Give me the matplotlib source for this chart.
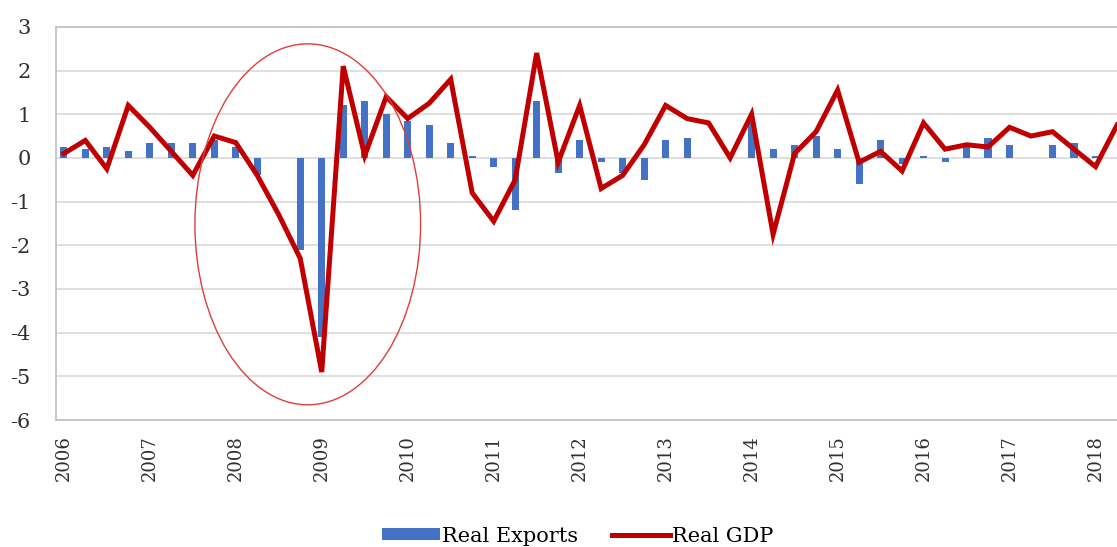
import numpy as np
import matplotlib
matplotlib.use("Agg")
import matplotlib.pyplot as plt
from matplotlib.patches import Ellipse

plt.rcParams['axes.unicode_minus'] = False

# quarterly data, 2006Q1 .. 2018Q2
years = [str(y) for y in range(2006, 2019)]
real_exports = [0.25, 0.2, 0.25, 0.15, 0.35, 0.35, 0.35, 0.4, 0.25, -0.4,
                0.0, -2.1, -4.1, 1.2, 1.3, 1.0, 0.85, 0.75, 0.35, 0.05,
                -0.2, -1.2, 1.3, -0.35, 0.4, -0.1, -0.35, -0.5, 0.4, 0.45,
                0.0, 0.0, 0.8, 0.2, 0.3, 0.5, 0.2, -0.6, 0.4, -0.15,
                0.05, -0.1, 0.3, 0.45, 0.3, 0.0, 0.3, 0.35, 0.05, 0.0]
real_gdp = [0.1, 0.4, -0.25, 1.2, 0.7, 0.15, -0.4, 0.5, 0.35, -0.4,
            -1.3, -2.3, -4.9, 2.1, 0.05, 1.4, 0.9, 1.25, 1.8, -0.8,
            -1.45, -0.5, 2.4, -0.1, 1.2, -0.7, -0.4, 0.3, 1.2, 0.9,
            0.8, 0.0, 1.0, -1.75, 0.1, 0.6, 1.55, -0.1, 0.15, -0.3,
            0.8, 0.2, 0.3, 0.25, 0.7, 0.5, 0.6, 0.2, -0.2, 0.75]

x = np.arange(len(real_gdp))

fig = plt.figure(figsize=(11.17, 5.47), dpi=100)
ax = fig.add_axes([0.050, 0.232, 0.950, 0.719])

bars = ax.bar(x, real_exports, width=0.33, color='#4472C4', label='Real Exports', zorder=2)
line, = ax.plot(x, real_gdp, color='#C00000', lw=3.6, label='Real GDP', zorder=3,
                solid_joinstyle='miter')

# highlight the crisis
ax.add_patch(Ellipse((11.35, -1.52), 10.5, 8.26, fill=False,
                     edgecolor='#E03C3C', lw=1.0, zorder=4))

ax.set_xlim(-0.37, 49.0)
ax.set_ylim(-6, 3)
ax.set_yticks(range(-6, 4))
ax.set_xticks(x[::4])
ax.set_xticklabels(years, rotation=90, fontsize=13, family='DejaVu Serif',
                   color='#303030')
for lbl in ax.get_yticklabels():
    lbl.set_fontsize(15)
    lbl.set_family('DejaVu Serif')
    lbl.set_color('#303030')
ax.tick_params(axis='x', length=0, pad=11)
ax.tick_params(axis='y', length=0, pad=18)

ax.grid(axis='y', color='#D9D9D9', lw=1.2, zorder=0)
ax.set_axisbelow(True)
for side in ['left', 'top', 'bottom']:
    ax.spines[side].set_color('#BFBFBF')
    ax.spines[side].set_linewidth(1.2)
ax.spines['right'].set_visible(False)

fig.legend([bars, line], ['Real Exports', 'Real GDP'], loc='center',
           bbox_to_anchor=(0.517, 0.02), ncol=2, frameon=False,
           prop={'family': 'DejaVu Serif', 'size': 15}, handlelength=2.8,
           handleheight=0.55, handletextpad=0.1, columnspacing=1.6,
           borderpad=0)

fig.savefig('out.png', dpi=100)
